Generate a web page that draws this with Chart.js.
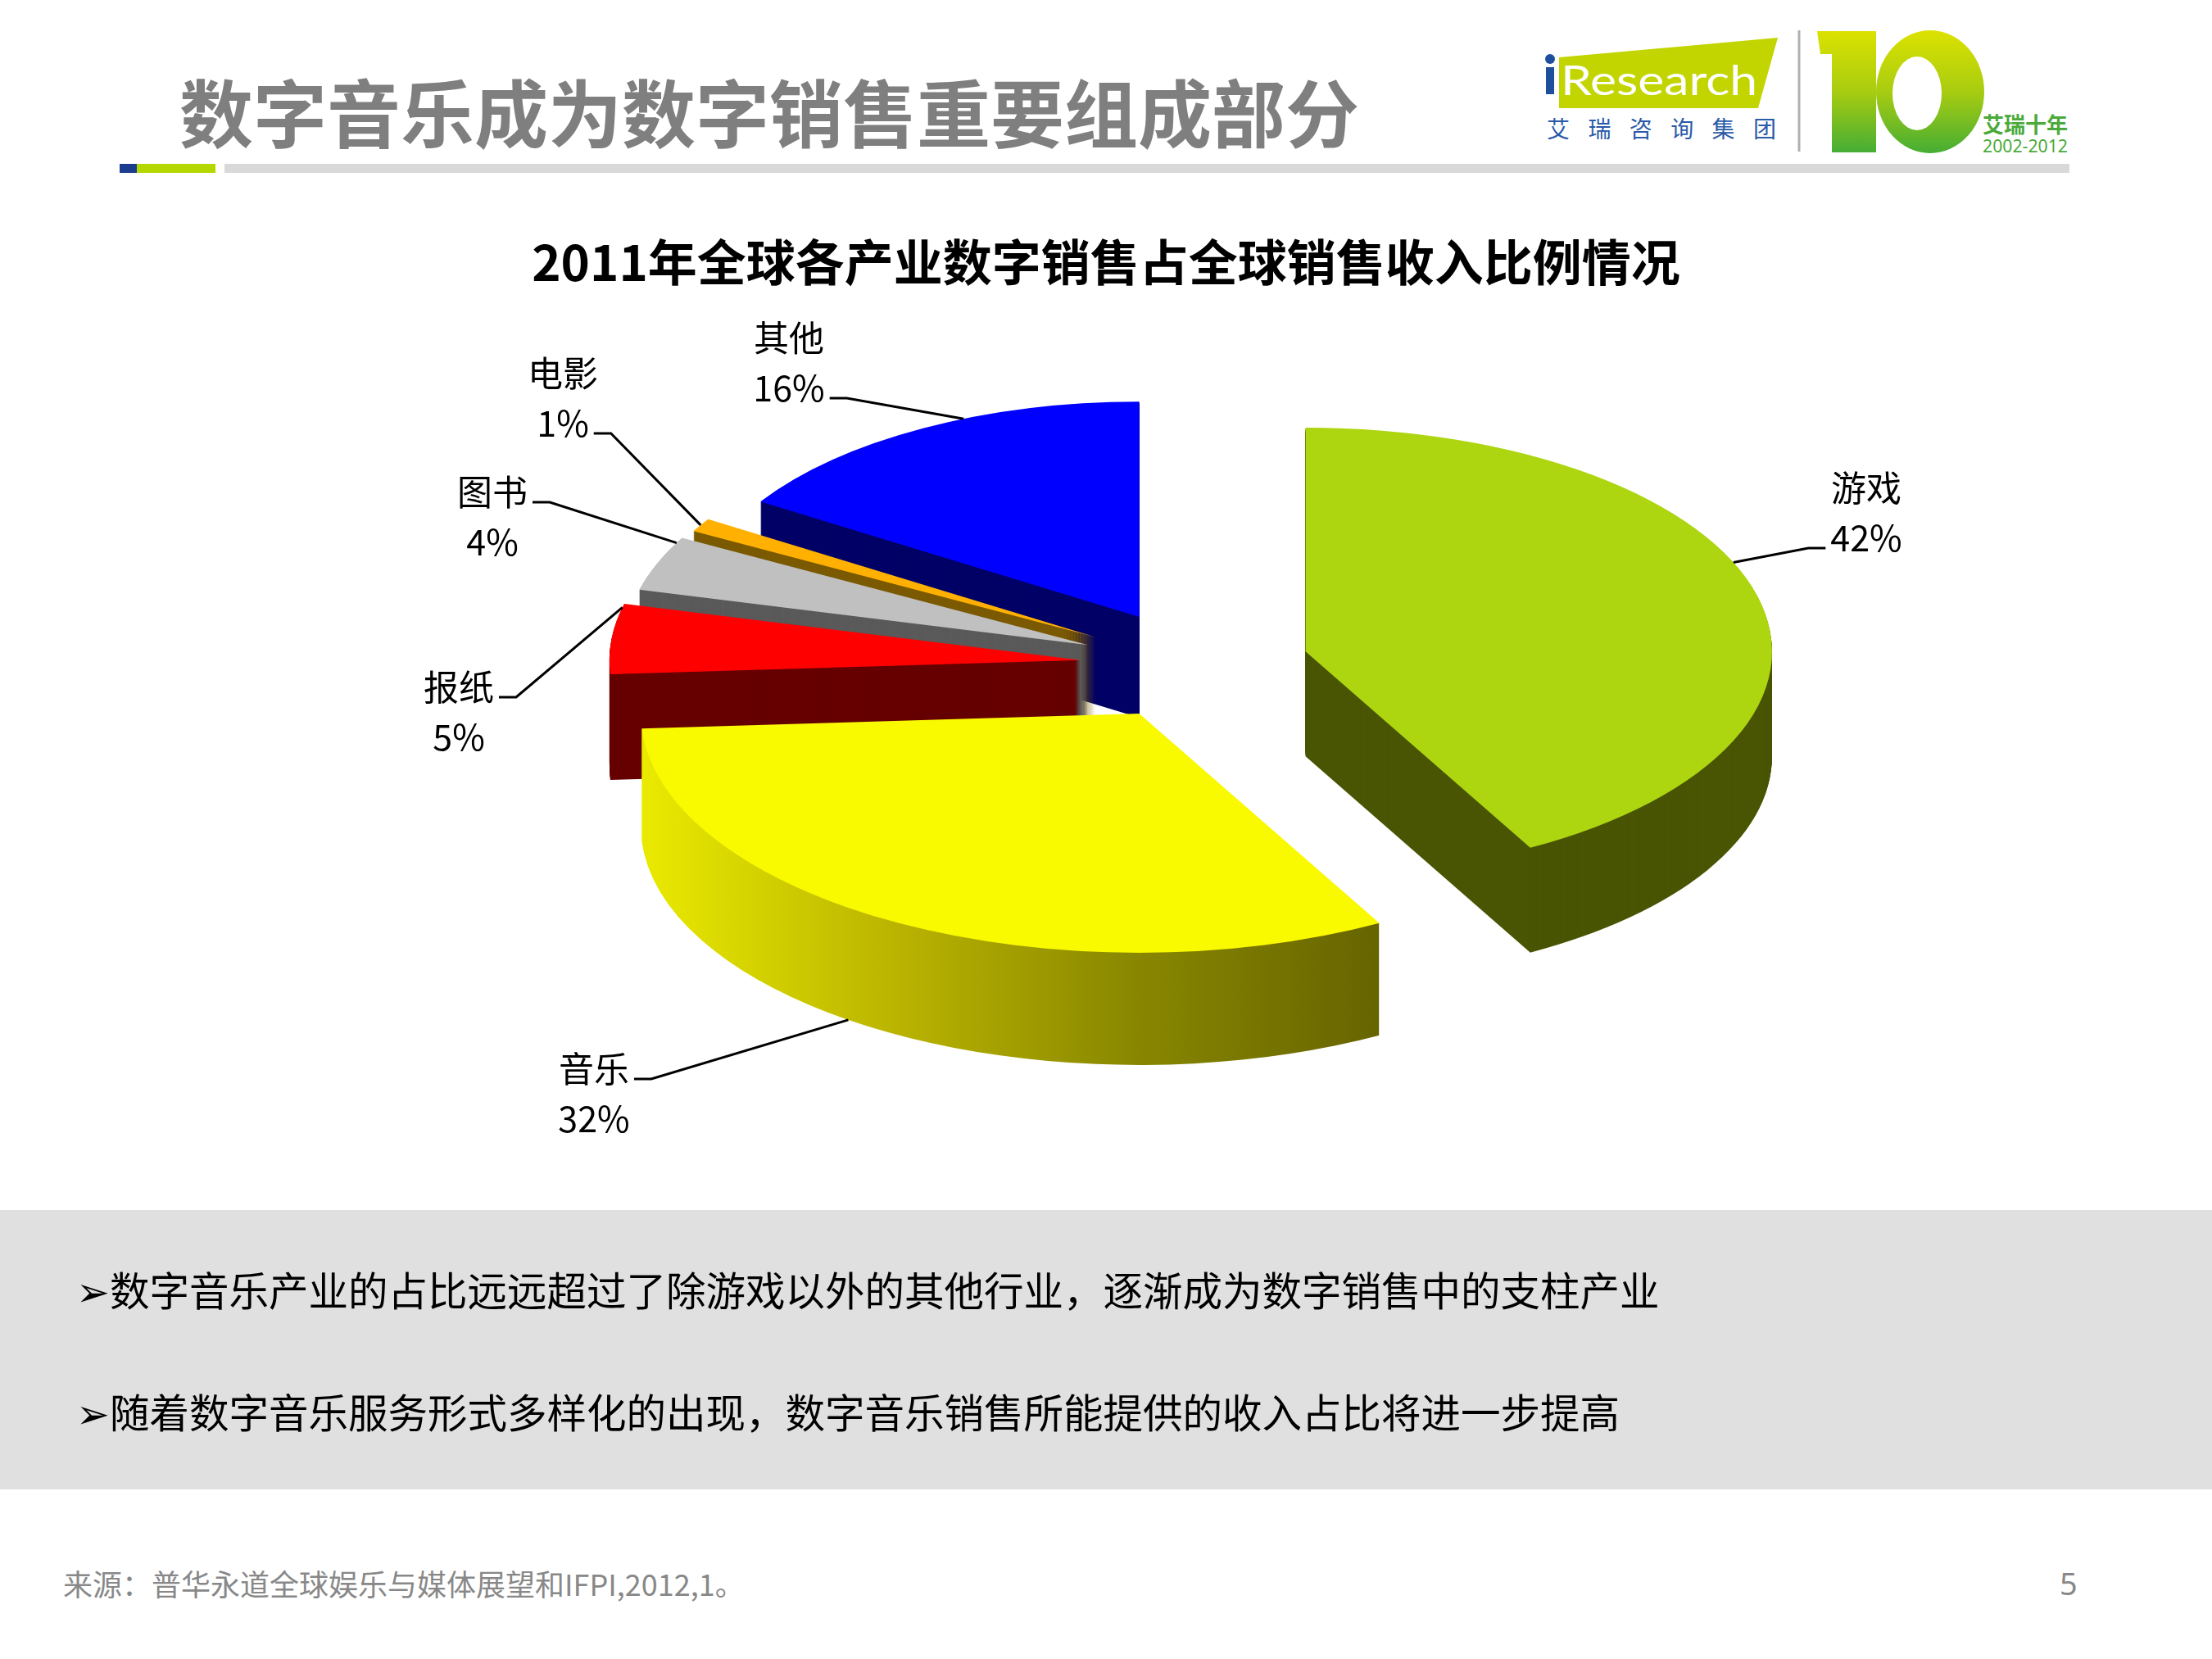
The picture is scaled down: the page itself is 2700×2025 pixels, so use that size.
<!DOCTYPE html>
<html><head><meta charset="utf-8">
<script src="https://cdn.jsdelivr.net/npm/chart.js@4.4.1/dist/chart.umd.min.js"></script>
<style>
html,body{margin:0;padding:0;background:#fff;}
#page{position:relative;width:2700px;height:2025px;overflow:hidden;background:#fff;font-family:"Noto Sans CJK SC","Noto Sans",sans-serif;}
.abs{position:absolute;white-space:nowrap;}
#title{left:219px;top:79px;font-size:90px;font-weight:bold;color:#7f7f7f;line-height:110px;}
#ctitle{left:0;width:2700px;text-align:center;top:277px;font-size:60px;font-weight:bold;color:#000;line-height:80px;}
#box{left:0;top:1477px;width:2700px;height:341px;background:#e0e0e0;}
.bullet{left:93px;font-size:48.5px;line-height:60px;color:#000;}
#foot{left:77px;top:1910px;font-size:36px;line-height:44px;color:#888;}
#pnum{left:2514px;top:1908px;font-size:38px;line-height:48px;color:#888;font-family:"Noto Sans",sans-serif;}
#chartCanvas{position:absolute;left:0;top:0;}
</style></head>
<body><div id="page">
<svg class="abs" style="left:0;top:0" width="2700" height="220" xmlns="http://www.w3.org/2000/svg">
  <defs><linearGradient id="g10" x1="0" y1="0" x2="0" y2="1">
    <stop offset="0" stop-color="#dce200"/><stop offset="0.5" stop-color="#a8cc10"/><stop offset="1" stop-color="#45ad35"/>
  </linearGradient></defs>
  <polygon points="1903,70 2170,46 2146,132 1903,132" fill="#c2d500"/>
  <circle cx="1892" cy="72" r="6" fill="#1d4f9c"/>
  <rect x="1887" y="82" width="10" height="33" fill="#1d4f9c"/>
  <text x="1905" y="116" font-size="50" fill="#fff" font-family="Lato, sans-serif" textLength="240" lengthAdjust="spacingAndGlyphs">Research</text>
  <text x="1888" y="168" font-size="28" fill="#2a5aa8" font-family="Noto Sans CJK SC" textLength="280" lengthAdjust="spacing">艾 瑞 咨 询 集 团</text>
  <line x1="2196" y1="37" x2="2196" y2="185" stroke="#b0b0b0" stroke-width="3"/>
  <polygon points="2218,38 2290,38 2290,186 2236,186 2236,66 2222,66" fill="url(#g10)"/>
  <ellipse cx="2356" cy="112" rx="66" ry="75" fill="url(#g10)"/>
  <ellipse cx="2340" cy="114" rx="30" ry="45" fill="#fff"/>
  <text x="2420" y="162" font-size="26" font-weight="bold" fill="#4aaa3a" font-family="Noto Sans CJK SC">艾瑞十年</text>
  <text x="2420" y="186" font-size="21" fill="#4aaa3a" font-family="Noto Sans" textLength="104" lengthAdjust="spacingAndGlyphs">2002-2012</text>
  <rect x="146" y="200" width="21" height="11" fill="#1b3d8f"/>
  <rect x="167" y="200" width="96" height="11" fill="#b4d700"/>
  <rect x="274" y="200" width="2252" height="11" fill="#d9d9d9"/>
</svg>
<div id="title" class="abs">数字音乐成为数字销售重要组成部分</div>
<div id="ctitle" class="abs">2011年全球各产业数字销售占全球销售收入比例情况</div>
<div id="box" class="abs"></div>
<div class="abs bullet" style="top:1543px">➢数字音乐产业的占比远远超过了除游戏以外的其他行业，逐渐成为数字销售中的支柱产业</div>
<div class="abs bullet" style="top:1692px">➢随着数字音乐服务形式多样化的出现，数字音乐销售所能提供的收入占比将进一步提高</div>
<div id="foot" class="abs">来源：普华永道全球娱乐与媒体展望和IFPI,2012,1。</div>
<div id="pnum" class="abs">5</div>
<canvas id="chartCanvas" width="2700" height="2025"></canvas>
</div>
<script>
// ---- data ----
const categories = ['游戏', '音乐', '报纸', '图书', '电影', '其他'];
const shares = [42, 32, 5, 4, 1, 16];
const pctLabels = ['42%', '32%', '5%', '4%', '1%', '16%'];

// ---- styles / layout ----
const topColors = ['#add610', '#f9f900', '#ff0000', '#c0c0c0', '#ffb000', '#0000ff'];
const sideColors = ['#495503', 'grad', '#660000', '#5a5a5a', '#7b5a00', '#000066'];
const yellowWall = [[0, '#eaea00'], [0.33, '#bcb600'], [0.66, '#8a8800'], [1, '#666400']];
const TILT = 0.48, DEPTH = 130, EXPLODE = 140, PERSP = 0.06;
// label text anchors (name line centre), leader line attach position along each arc
const labelLayout = [
  {x: 2278, y: 596, lead: 1, side: 'left', at: 0.44},
  {x: 725, y: 1305, lead: 0, side: 'right', at: 0.56},
  {x: 560, y: 839, lead: 0, side: 'right', at: 0.95},
  {x: 601, y: 601, lead: 0, side: 'right', at: 0.9},
  {x: 687, y: 456, lead: 1, side: 'right', at: 0.5},
  {x: 963, y: 413, lead: 1, side: 'right', at: 0.6}
];

function sliceGeom(a) {
  const mid = (a.startAngle + a.endAngle) / 2;
  return {mid, exX: Math.cos(mid) * EXPLODE, exY: Math.sin(mid) * EXPLODE, s: 1 + PERSP * Math.sin(mid)};
}
function applySlice(ctx, a, g, dy) {
  ctx.translate(0, dy + a.y);
  ctx.scale(1, TILT);
  ctx.translate(g.exX, g.exY - a.y);
  ctx.translate(a.x, a.y);
  ctx.scale(g.s, g.s);
  ctx.translate(-a.x, -a.y);
}
function sectorPath(ctx, a) {
  ctx.beginPath();
  ctx.moveTo(a.x, a.y);
  ctx.arc(a.x, a.y, a.outerRadius, a.startAngle, a.endAngle);
  ctx.closePath();
}

const pie3d = {
  id: 'pie3d',
  beforeDatasetsDraw(chart) {
    const ctx = chart.ctx;
    const meta = chart.getDatasetMeta(0);
    const items = meta.data.map((a, i) => ({a, i, g: sliceGeom(a)}));
    items.sort((p, q) => Math.sin(p.g.mid) - Math.sin(q.g.mid));
    for (const {a, i, g} of items) {
      let fill = sideColors[i];
      if (fill === 'grad') {
        let minX = Infinity, maxX = -Infinity;
        for (let t = 0; t <= 40; t++) {
          const ang = a.startAngle + (a.endAngle - a.startAngle) * t / 40;
          const xx = a.x + a.outerRadius * Math.cos(ang);
          minX = Math.min(minX, xx); maxX = Math.max(maxX, xx);
        }
        const gr = ctx.createLinearGradient(minX, 0, maxX, 0);
        yellowWall.forEach(st => gr.addColorStop(st[0], st[1]));
        fill = gr;
      }
      const depth = Math.round(DEPTH * g.s);
      for (let d = depth; d >= 1; d--) {
        ctx.save();
        applySlice(ctx, a, g, d);
        sectorPath(ctx, a);
        ctx.fillStyle = fill;
        ctx.fill();
        ctx.restore();
      }
      ctx.save();
      applySlice(ctx, a, g, 0);
      a.draw(ctx);
      ctx.restore();
    }
    return false;
  }
};

const labels3d = {
  id: 'labels3d',
  afterDraw(chart) {
    const ctx = chart.ctx;
    const meta = chart.getDatasetMeta(0);
    ctx.save();
    ctx.font = '43px "Noto Sans CJK SC", "Noto Sans", sans-serif';
    ctx.fillStyle = '#000';
    ctx.strokeStyle = '#000';
    ctx.lineWidth = 3;
    ctx.textAlign = 'center';
    ctx.textBaseline = 'middle';
    meta.data.forEach((a, i) => {
      const g = sliceGeom(a);
      const L = labelLayout[i];
      const ang = a.startAngle + (a.endAngle - a.startAngle) * L.at;
      const rr = a.outerRadius * g.s;
      const ex = a.x + g.exX + rr * Math.cos(ang);
      let ey = a.y + TILT * (g.exY + rr * Math.sin(ang));
      if (Math.sin(ang) > 0.5) ey += DEPTH * g.s;
      ctx.fillText(categories[i], L.x, L.y);
      ctx.fillText(pctLabels[i], L.x, L.y + 61);
      const txt = L.lead ? pctLabels[i] : categories[i];
      const w = ctx.measureText(txt).width;
      const yl = L.y + L.lead * 61 + 12;
      let x0, x1;
      if (L.side === 'right') { x0 = L.x + w / 2 + 6; x1 = x0 + 21; }
      else { x0 = L.x - w / 2 - 6; x1 = x0 - 21; }
      ctx.beginPath();
      ctx.moveTo(x0, yl); ctx.lineTo(x1, yl); ctx.lineTo(ex, ey);
      ctx.stroke();
    });
    ctx.restore();
  }
};

new Chart(document.getElementById('chartCanvas'), {
  type: 'pie',
  data: {
    labels: categories,
    datasets: [{data: shares, backgroundColor: topColors, borderWidth: 0, hoverOffset: 0}]
  },
  options: {
    responsive: false,
    animation: false,
    devicePixelRatio: 1,
    events: [],
    radius: 578,
    layout: {padding: {left: 216, right: 0, top: 0, bottom: 401}},
    plugins: {legend: {display: false}, tooltip: {enabled: false}}
  },
  plugins: [pie3d, labels3d]
});
</script>
</body></html>
